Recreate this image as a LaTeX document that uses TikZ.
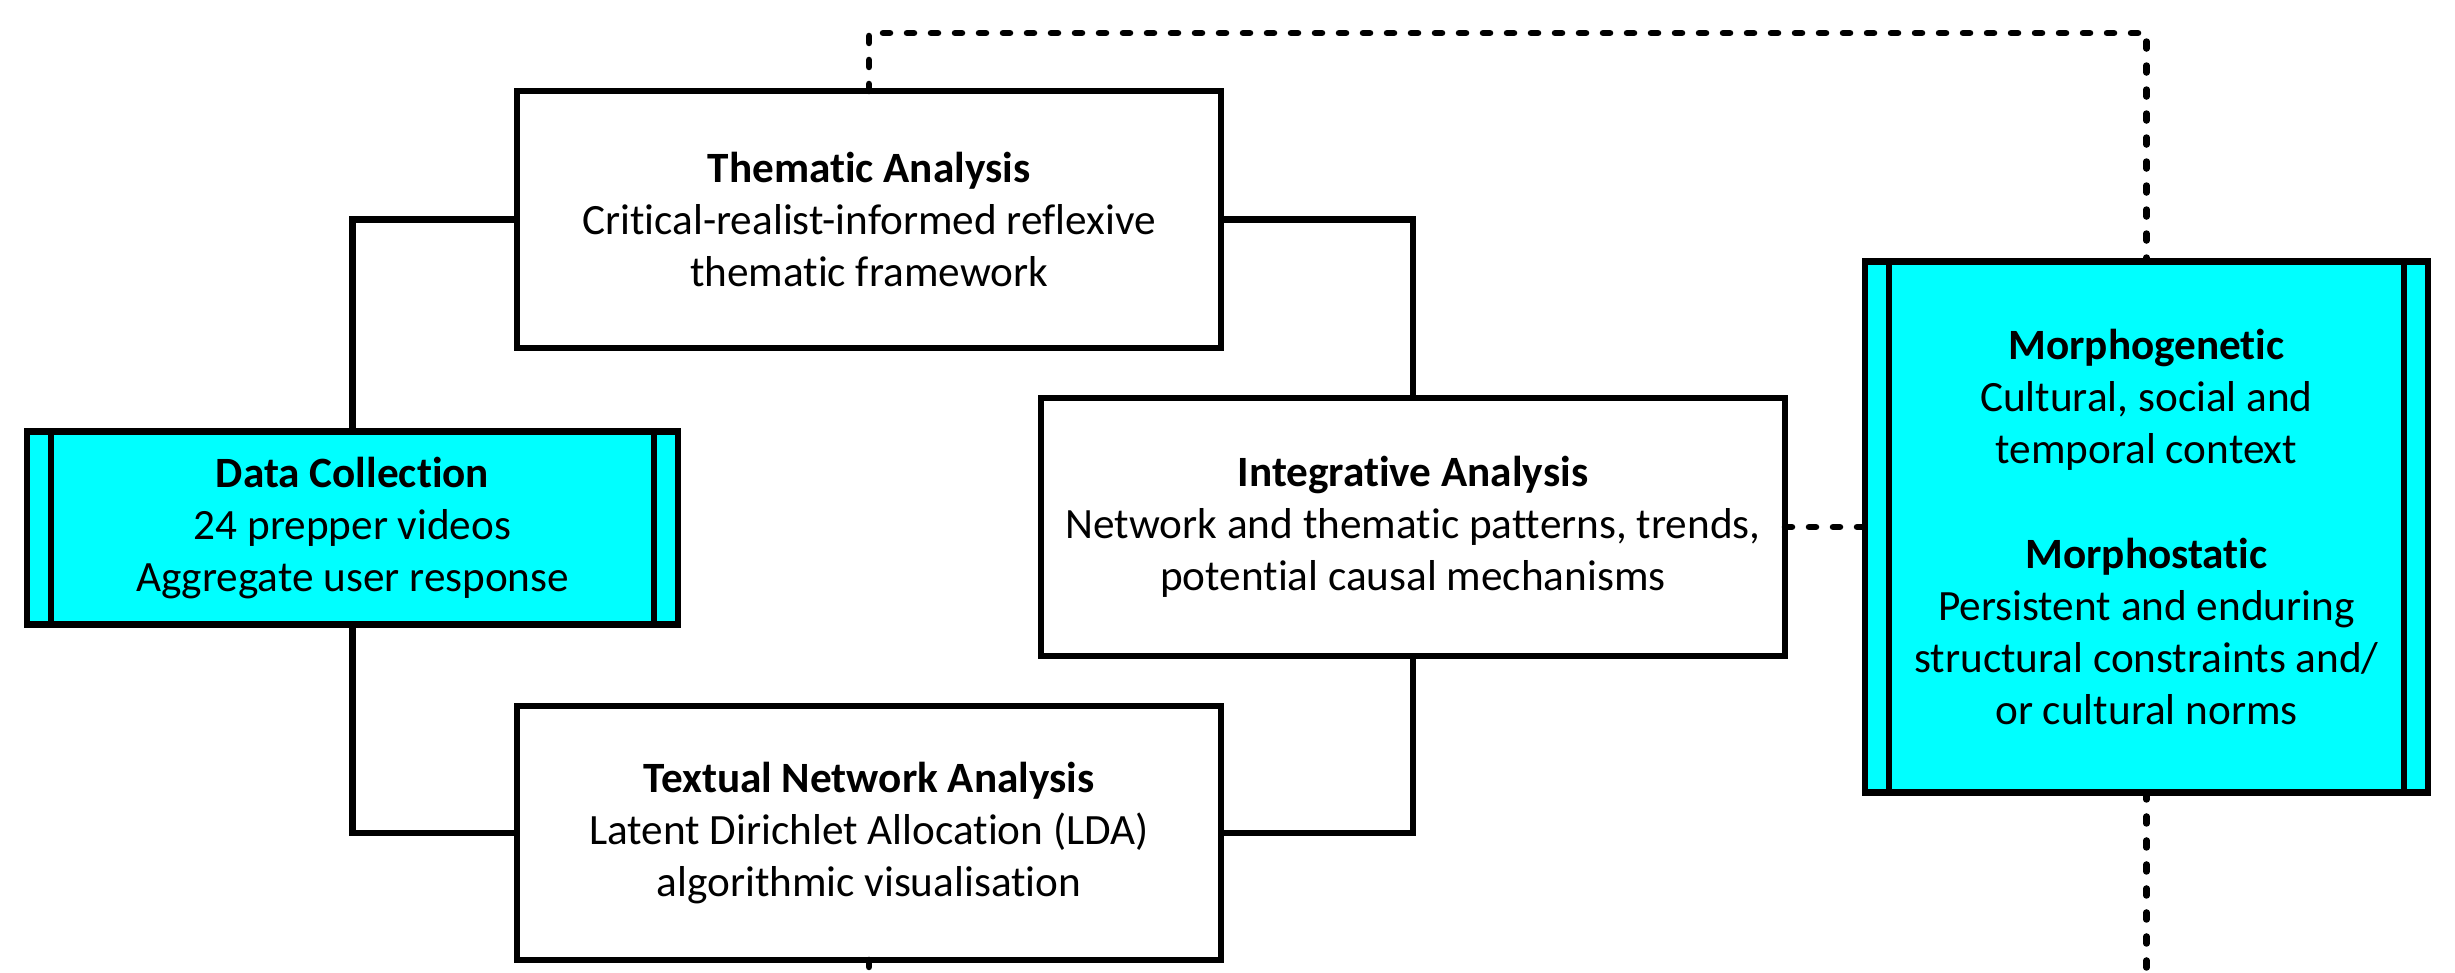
\documentclass[tikz,border=0pt]{standalone}
\usepackage{fontspec}
\setmainfont{Carlito}[Ligatures=NoCommon]
\usepackage{tikz}
\usetikzlibrary{positioning}
\definecolor{boxcyan}{RGB}{0,255,255}
\def \lw {0.065cm}
\def \gap {0.24cm}

% the two inner bars of a process box
\newcommand{\sidebars}[1]{%
  \draw[line width=\lw] ([xshift=\gap]#1.north west) -- ([xshift=\gap]#1.south west);
  \draw[line width=\lw] ([xshift=-\gap]#1.north east) -- ([xshift=-\gap]#1.south east);}

\begin{document}
\begin{tikzpicture}[box/.style={draw,line width=\lw,fill=white,align=center,outer sep=0pt,
    inner sep=0pt,font=\fontsize{12.3}{14.8}\selectfont},
  cbox/.style={box,fill=boxcyan},
  link/.style={line width=\lw},
  dots/.style={line width=\lw,line cap=round,dash pattern=on 0.07cm off 0.17cm}]
  \useasboundingbox (0,0) rectangle (24.55,9.73);
  \coordinate (base) at (0,0);
  \coordinate (top) at (14,9.40);

  \node[box,minimum width=7.04cm,minimum height=2.57cm] (them) at (8.69,7.535)
    {\textbf{Thematic Analysis}\\Critical-realist-informed reflexive\\thematic framework};
  \node[box,minimum width=7.04cm,minimum height=2.54cm,below=3.58cm of them] (text)
    {\textbf{Textual Network Analysis}\\Latent Dirichlet Allocation (LDA)\\algorithmic visualisation};
  \node[cbox,minimum width=6.51cm,minimum height=1.93cm] (data) at (3.525,4.45)
    {\textbf{Data Collection}\\24 prepper videos\\Aggregate user response};
  \node[box,minimum width=7.44cm,minimum height=2.58cm] (integ) at (14.13,4.46)
    {\textbf{Integrative Analysis}\\Network and thematic patterns, trends,\\potential causal mechanisms};
  \node[cbox,minimum width=5.63cm,minimum height=5.31cm,right=0.80cm of integ] (morph)
    {\textbf{Morphogenetic}\\Cultural, social and\\temporal context\\[14.8pt]
     \textbf{Morphostatic}\\Persistent and enduring\\structural constraints and/\\or cultural norms};
  \sidebars{data}
  \sidebars{morph}

  % solid links
  \draw[link] (data.north) |- (them.west);
  \draw[link] (data.south) |- (text.west);
  \draw[link] (them.east) -| (integ.north);
  \draw[link] (integ.south) |- (text.east);

  % dotted links
  \draw[dots] (them.north) |- (top) -| (morph.north);
  \draw[dots] (integ.east) -- (integ.east -| morph.west);
  \draw[dots] (morph.south) -- (morph.south |- base);
  \draw[dots] (text.south) -- (text.south |- base);
\end{tikzpicture}
\end{document}
